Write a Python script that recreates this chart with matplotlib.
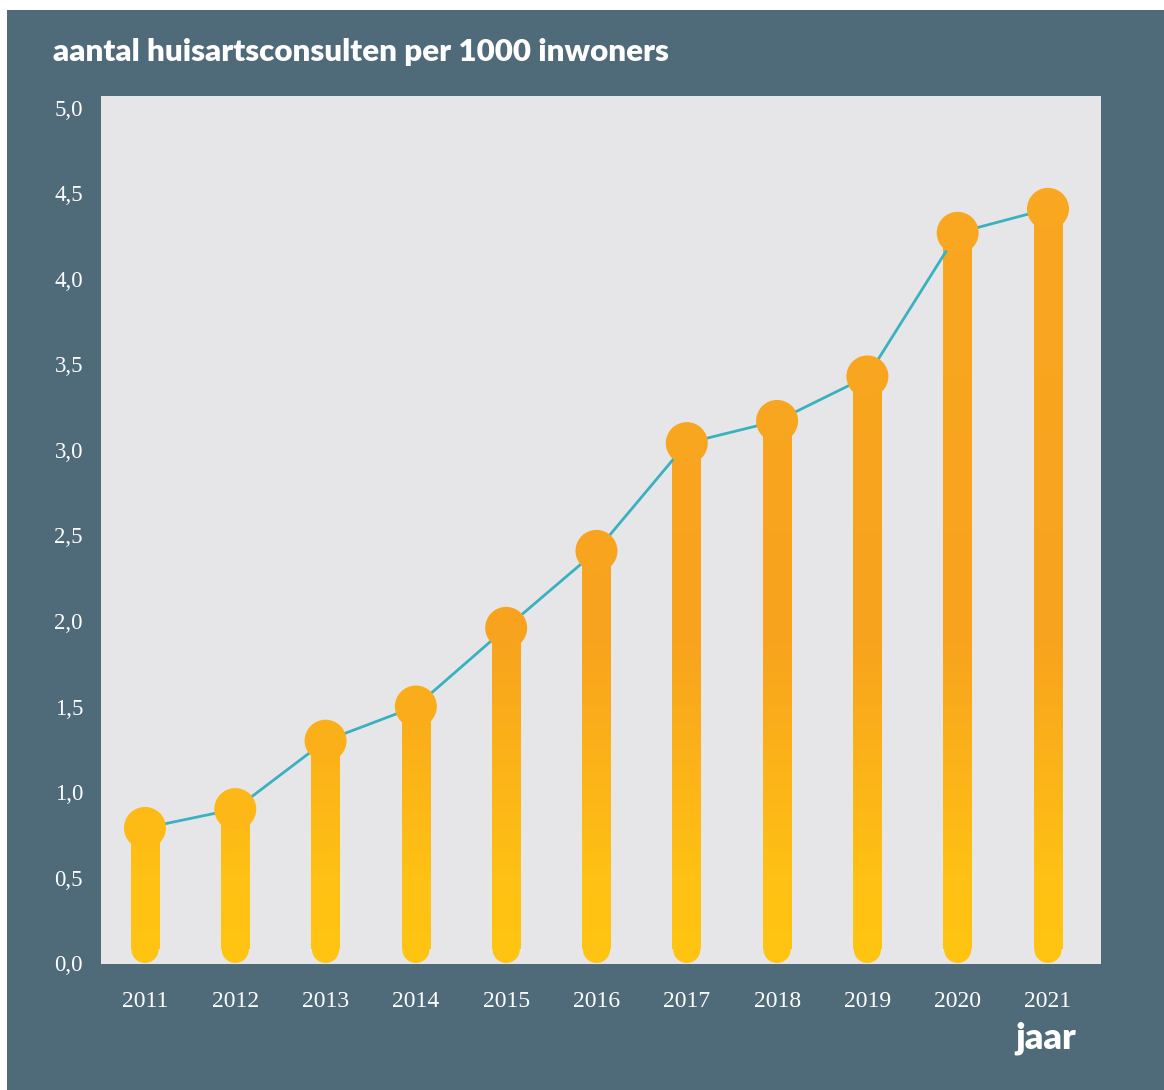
import matplotlib
matplotlib.use("Agg")
import matplotlib.pyplot as plt
import numpy as np
from matplotlib.colors import LinearSegmentedColormap, Normalize
from matplotlib.patches import Rectangle

# ---- data ----
years = ["2011", "2012", "2013", "2014", "2015", "2016", "2017", "2018", "2019", "2020", "2021"]
values = [0.79, 0.90, 1.30, 1.50, 1.96, 2.41, 3.04, 3.17, 3.43, 4.27, 4.41]
yticks = [0.0, 0.5, 1.0, 1.5, 2.0, 2.5, 3.0, 3.5, 4.0, 4.5, 5.0]
ytick_labels = ["0,0", "0,5", "1,0", "1,5", "2,0", "2,5", "3,0", "3,5", "4,0", "4,5", "5,0"]
title = "aantal huisartsconsulten per 1000 inwoners"
xlabel = "jaar"

# ---- style ----
SLATE = "#4F6A79"
PANEL = "#E6E6E8"
TEAL = "#3AB1BF"
WHITE = "#FFFFFF"
DPI = 100
W, H = 1164, 1090

grad = LinearSegmentedColormap.from_list(
    "grad",
    [(0.0, "#FFC412"), (0.10, "#FFC114"), (0.38, "#F8A31E"), (1.0, "#F9A820")],
)
norm = Normalize(0.0, 5.0)

fig = plt.figure(figsize=(W / DPI, H / DPI), dpi=DPI, facecolor="white")
fig.patches.append(Rectangle((7 / W, 0), 1, (H - 10) / H, transform=fig.transFigure,
                             facecolor=SLATE, edgecolor="none", zorder=-5))

ax = fig.add_axes([101 / W, 1 - 963.7 / H, 1000 / W, (963.7 - 96) / H])
ax.set_facecolor(PANEL)
for s in ax.spines.values():
    s.set_visible(False)

x = np.arange(len(years))
XLIM = (-0.487, 10.587)
YLIM = (-0.004, 5.07)
ax.set_xlim(*XLIM)
ax.set_ylim(*YLIM)

bar_px = 28.6      # rectangle width (renders ~27 px)
cap_px = 27.2      # round bottom cap diameter
circ_px = 42       # top circle diameter
# convert pixel sizes to data units via the axes' transform
p0 = ax.transData.transform((0, 0))
p1 = ax.transData.transform((1, 1))
px_per_x = p1[0] - p0[0]
px_per_y = p1[1] - p0[1]
bw = bar_px / px_per_x
r_y = (cap_px / 2) / px_per_y

# bars (shape) + gradient fill clipped to each bar
heights = [v - r_y for v in values]
bars = ax.bar(x, heights, bottom=r_y, width=bw, color=grad(norm(1.0)),
              edgecolor="none", zorder=2)
gy = np.repeat(np.linspace(0, 5.1, 1400).reshape(-1, 1), 4, axis=1)
for xi, patch in zip(x, bars.patches):
    im = ax.imshow(gy, cmap=grad, norm=norm, origin="lower", aspect="auto",
                   extent=(xi - bw, xi + bw, 0, 5.1), interpolation="nearest", zorder=2.05)
    im.set_clip_path(patch)
# rounded bottoms
ax.scatter(x, [r_y] * len(x), s=(cap_px * 72 / DPI) ** 2, color=grad(norm(r_y)),
           edgecolors="none", zorder=2.1)

# line
ax.plot(x, values, color=TEAL, linewidth=2.0, zorder=3, solid_capstyle="round")

# circles
ax.scatter(x, values, s=(circ_px * 72 / DPI) ** 2, c=[grad(norm(v)) for v in values],
           edgecolors="none", zorder=4)

ax.set_xlim(*XLIM)
ax.set_ylim(*YLIM)

# ticks
serif = ["Liberation Serif", "DejaVu Serif"]
ax.set_yticks(yticks)
ax.set_yticklabels(ytick_labels, fontfamily=serif, fontsize=16.5, color=WHITE)
ax.set_xticks(x)
ax.set_xticklabels(years, fontfamily=serif, fontsize=17, color=WHITE)
ax.tick_params(axis="y", length=0, pad=13)
ax.tick_params(axis="x", length=0, pad=20)

fig.text(53 / W, 1 - 52 / H, title, fontfamily=["Lato", "DejaVu Sans"], fontweight="heavy",
         fontsize=22.5, color=WHITE, ha="left", va="center")
fig.text(1076 / W, 1 - 1038 / H, xlabel, fontfamily=["Lato", "DejaVu Sans"], fontweight="heavy",
         fontsize=26, color=WHITE, ha="right", va="center")

fig.savefig("out.png", dpi=DPI, facecolor=fig.get_facecolor())
